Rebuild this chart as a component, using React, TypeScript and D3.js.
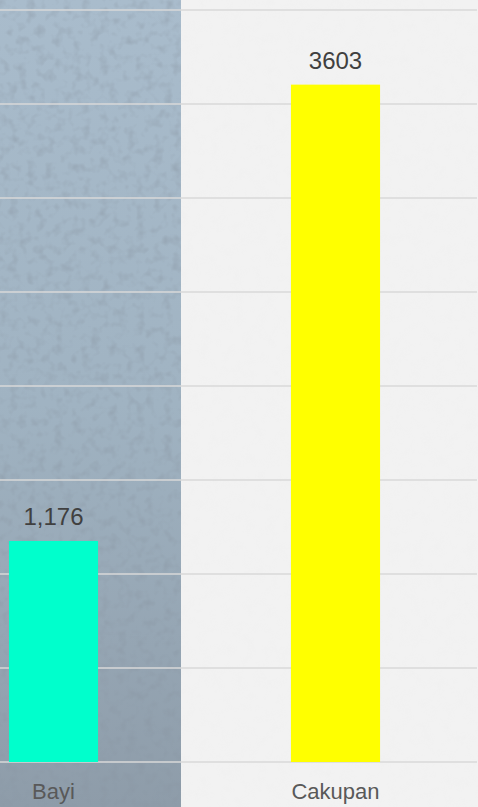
import React from "react";
import * as d3 from "d3";

const categories = ["Bayi", "Cakupan"];
const values = [1176, 3603];
const valueLabels = ["1,176", "3603"];
const barColors = ["#00ffcc", "#ffff00"];
const yTicks = [0, 500, 1000, 1500, 2000, 2500, 3000, 3500, 4000];

const W = 478;
const H = 807;

export default function App() {
  const y = d3.scaleLinear().domain([0, 4000]).range([762, 10]);
  const x = d3
    .scaleBand<string>()
    .domain(categories)
    .range([-87.5, 476.5])
    .paddingInner(0.684)
    .paddingOuter(0.342);
  const splitX = 181;

  return (
    <svg
      width={W}
      height={H}
      style={{ position: "absolute", left: 0, top: 0, display: "block" }}
      fontFamily="'Liberation Sans', Arial, sans-serif"
    >
      <defs>
        <linearGradient id="leftBg" x1="0" y1="0" x2="0" y2="1">
          <stop offset="0" stopColor="#a9bccc" />
          <stop offset="0.5" stopColor="#a0b3c2" />
          <stop offset="1" stopColor="#8e9ca9" />
        </linearGradient>
        <filter id="noiseDark" x="0" y="0" width="100%" height="100%">
          <feTurbulence type="fractalNoise" baseFrequency="0.11" numOctaves="2" seed="4" />
          <feColorMatrix
            type="matrix"
            values="0 0 0 0 0.25  0 0 0 0 0.3  0 0 0 0 0.36  1.8 0 0 0 -0.85"
          />
        </filter>
        <filter id="noiseLight" x="0" y="0" width="100%" height="100%">
          <feTurbulence type="fractalNoise" baseFrequency="0.09" numOctaves="2" seed="9" />
          <feColorMatrix
            type="matrix"
            values="0 0 0 0 0.85  0 0 0 0 0.85  0 0 0 0 0.85  1.2 0 0 0 -0.55"
          />
        </filter>
      </defs>
      <rect x={0} y={0} width={splitX} height={H} fill="url(#leftBg)" />
      <rect x={0} y={0} width={splitX} height={H} filter="url(#noiseDark)" opacity={0.55} />
      <rect x={splitX} y={0} width={W - splitX} height={H} fill="#f2f2f2" />
      <rect x={splitX} y={0} width={W - splitX} height={H} filter="url(#noiseLight)" opacity={0.5} />

      {yTicks.map((t) => (
        <line
          key={t}
          x1={0}
          x2={W - 1}
          y1={y(t)}
          y2={y(t)}
          stroke="#d9d9d9"
          strokeWidth={1.3}
        />
      ))}

      {categories.map((c, i) => (
        <rect
          key={c}
          x={x(c)}
          y={y(values[i])}
          width={x.bandwidth()}
          height={y(0) - y(values[i])}
          fill={barColors[i]}
        />
      ))}

      {categories.map((c, i) => (
        <text
          key={c + "-v"}
          x={(x(c) as number) + x.bandwidth() / 2}
          y={y(values[i]) - 16}
          textAnchor="middle"
          fontSize={24}
          fill="#404040"
        >
          {valueLabels[i]}
        </text>
      ))}

      {categories.map((c) => (
        <text
          key={c + "-l"}
          x={(x(c) as number) + x.bandwidth() / 2}
          y={799}
          textAnchor="middle"
          fontSize={22}
          fill="#595959"
        >
          {c}
        </text>
      ))}
    </svg>
  );
}
